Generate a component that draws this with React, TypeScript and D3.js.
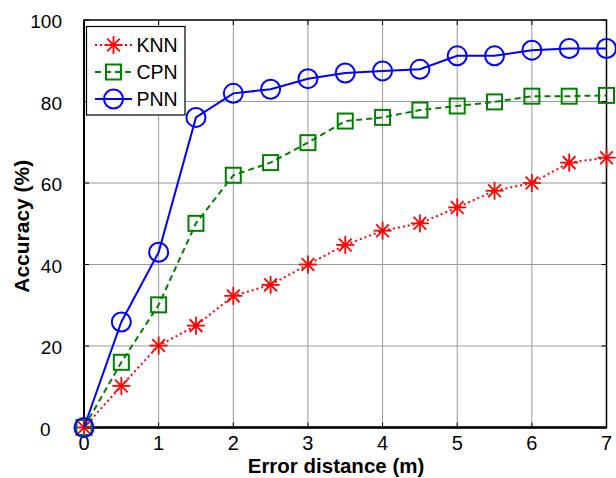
import React from "react";
import * as d3 from "d3";

const distances = [0, 0.5, 1, 1.5, 2, 2.5, 3, 3.5, 4, 4.5, 5, 5.5, 6, 6.5, 7];
const knnValues = [0, 10.2, 20.1, 25, 32.3, 35, 40, 44.8, 48.3, 50.1, 54, 58.1, 60, 65, 66.2];
const cpnValues = [0, 16, 30.1, 50.1, 61.9, 65, 69.9, 75.2, 76.1, 77.9, 78.9, 79.9, 81.3, 81.3, 81.5];
const pnnValues = [0, 25.9, 43, 76.1, 82, 83, 85.6, 87, 87.5, 87.9, 91.2, 91.2, 92.6, 93, 93];
const xTicks = [0, 1, 2, 3, 4, 5, 6, 7];
const yTicks = [0, 20, 40, 60, 80, 100];
const seriesNames = ["KNN", "CPN", "PNN"];

const W = 616;
const H = 478;
const M = { left: 84, right: 606.5, top: 20, bottom: 427.5 };
const FONT = "'Liberation Sans', Arial, Helvetica, sans-serif";

const styles: Record<string, { color: string; dash: string; marker: string }> = {
  KNN: { color: "#ff0000", dash: "2,3", marker: "star" },
  CPN: { color: "#008000", dash: "6,4", marker: "square" },
  PNN: { color: "#0000ff", dash: "", marker: "circle" },
};

function Marker({ type, x, y, color }: { type: string; x: number; y: number; color: string }) {
  if (type === "circle") {
    return <circle cx={x} cy={y} r={9.5} fill="none" stroke={color} strokeWidth={2} />;
  }
  if (type === "square") {
    return <rect x={x - 7.5} y={y - 7.5} width={15} height={15} fill="none" stroke={color} strokeWidth={2} />;
  }
  const r = 9;
  const d = r * Math.SQRT1_2;
  return (
    <g stroke={color} strokeWidth={1.8}>
      <line x1={x - r} y1={y} x2={x + r} y2={y} />
      <line x1={x} y1={y - r} x2={x} y2={y + r} />
      <line x1={x - d} y1={y - d} x2={x + d} y2={y + d} />
      <line x1={x - d} y1={y + d} x2={x + d} y2={y - d} />
    </g>
  );
}

export default function App() {
  const x = d3.scaleLinear().domain([0, 7]).range([M.left, M.right]);
  const y = d3.scaleLinear().domain([0, 100]).range([M.bottom, M.top]);
  const data: Record<string, number[]> = { KNN: knnValues, CPN: cpnValues, PNN: pnnValues };
  const line = d3
    .line<[number, number]>()
    .x((d) => x(d[0]))
    .y((d) => y(d[1]));

  return (
    <svg width={W} height={H} style={{ position: "absolute", left: 0, top: 0, background: "#fff" }} fontFamily={FONT}>
      <rect x={0} y={0} width={W} height={H} fill="#fff" />
      {/* grid */}
      <g stroke="#9a9a9a" strokeWidth={1}>
        {xTicks.slice(1, -1).map((t) => (
          <line key={"gx" + t} x1={x(t)} x2={x(t)} y1={M.top} y2={M.bottom} />
        ))}
        {yTicks.slice(1, -1).map((t) => (
          <line key={"gy" + t} x1={M.left} x2={M.right} y1={y(t)} y2={y(t)} />
        ))}
      </g>
      {/* tick marks */}
      <g stroke="#000" strokeWidth={1}>
        {yTicks.map((t) => (
          <g key={"ty" + t}>
            <line x1={M.left} x2={M.left + 5} y1={y(t)} y2={y(t)} />
            <line x1={M.right - 5} x2={M.right} y1={y(t)} y2={y(t)} />
          </g>
        ))}
        {xTicks.map((t) => (
          <g key={"tx" + t}>
            <line x1={x(t)} x2={x(t)} y1={M.bottom} y2={M.bottom - 5} />
            <line x1={x(t)} x2={x(t)} y1={M.top} y2={M.top + 5} />
          </g>
        ))}
      </g>
      {/* frame */}
      <rect x={M.left} y={M.top} width={M.right - M.left} height={M.bottom - M.top} fill="none" stroke="#000" strokeWidth={1.5} />
      <line x1={M.left} x2={M.right} y1={M.bottom} y2={M.bottom} stroke="#000" strokeWidth={2.5} />
      <line x1={M.left} x2={M.left} y1={M.top} y2={M.bottom} stroke="#000" strokeWidth={2} />
      {/* tick labels */}
      <g fontSize={19} fill="#000">
        {yTicks.map((t) =>
          t === 0 ? (
            <text key={"ly" + t} x={40} y={y(t) + 8.5} textAnchor="start">
              {t}
            </text>
          ) : (
            <text key={"ly" + t} x={62} y={y(t) + 8} textAnchor="end">
              {t}
            </text>
          )
        )}
        {xTicks.map((t) => (
          <text key={"lx" + t} x={x(t)} y={449.5} textAnchor="middle" fontSize={20}>
            {t}
          </text>
        ))}
      </g>
      {/* axis titles */}
      <text x={336} y={473} textAnchor="middle" fontSize={20.5} fontWeight="bold">
        Error distance (m)
      </text>
      <text
        transform={`translate(29,${(M.top + M.bottom) / 2 + 2.5}) rotate(-90)`}
        textAnchor="middle"
        fontSize={21}
        fontWeight="bold"
      >
        Accuracy (%)
      </text>
      {/* series */}
      {seriesNames.map((name) => {
        const s = styles[name];
        const pts: [number, number][] = distances.map((d, i) => [d, data[name][i]]);
        return (
          <g key={name}>
            <path d={line(pts) || ""} fill="none" stroke={s.color} strokeWidth={2} strokeDasharray={s.dash || undefined} />
            {pts.map((p, i) => (
              <Marker key={i} type={s.marker} x={x(p[0])} y={y(p[1])} color={s.color} />
            ))}
          </g>
        );
      })}
      {/* legend */}
      <g>
        <rect x={86.5} y={26.5} width={98.5} height={88.5} fill="#fff" stroke="#000" strokeWidth={1.2} />
        {seriesNames.map((name, i) => {
          const s = styles[name];
          const ly = 45 + i * 27;
          return (
            <g key={"lg" + name}>
              <line x1={95} x2={132} y1={ly} y2={ly} stroke={s.color} strokeWidth={2} strokeDasharray={s.dash || undefined} />
              <Marker type={s.marker} x={113.5} y={ly} color={s.color} />
              <text x={136.5} y={ly + 7} fontSize={19.5} fill="#000">
                {name}
              </text>
            </g>
          );
        })}
      </g>
    </svg>
  );
}
